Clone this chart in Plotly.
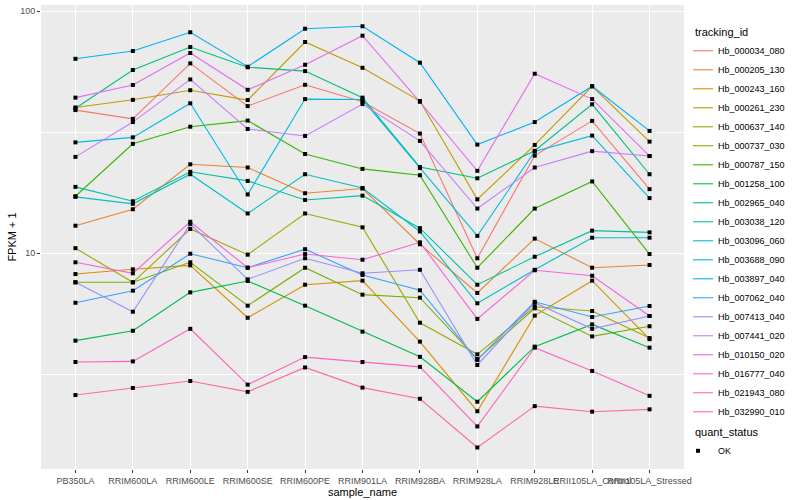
import plotly.graph_objects as go

samples = ["PB350LA", "RRIM600LA", "RRIM600LE", "RRIM600SE", "RRIM600PE", "RRIM901LA",
           "RRIM928BA", "RRIM928LA", "RRIM928LE", "RRII105LA_Control", "RRII105LA_Stressed"]

# FPKM + 1 values per tracking_id
hb_000034_080 = [39.0, 35.9, 60.8, 40.5, 49.6, 42.2, 31.2, 9.54, 25.3, 35.2, 18.4]
hb_000205_130 = [13.0, 15.2, 23.3, 22.6, 17.7, 18.5, 10.9, 6.86, 11.5, 8.72, 8.95]
hb_000243_160 = [8.21, 8.59, 8.92, 5.42, 7.42, 7.71, 4.32, 2.23, 5.53, 7.71, 4.42]
hb_000261_230 = [40.0, 43.0, 47.1, 42.9, 74.5, 58.3, 42.5, 16.7, 28.0, 48.9, 28.9]
hb_000637_140 = [10.5, 7.59, 12.6, 9.87, 14.6, 12.8, 5.17, 3.83, 6.02, 5.78, 4.47]
hb_000737_030 = [7.59, 7.59, 9.18, 6.08, 8.72, 6.75, 6.56, 3.66, 5.93, 4.54, 5.00]
hb_000787_150 = [17.2, 28.3, 33.3, 35.3, 25.7, 22.3, 21.0, 8.72, 15.3, 19.8, 9.93]
hb_001258_100 = [4.36, 4.79, 6.90, 7.69, 6.08, 4.75, 3.74, 2.44, 4.12, 5.09, 4.08]
hb_002965_040 = [39.7, 57.1, 71.0, 58.6, 56.5, 43.9, 22.7, 20.4, 26.5, 41.2, 21.2]
hb_003038_120 = [18.8, 16.4, 21.7, 19.9, 16.6, 17.3, 12.7, 7.42, 9.68, 12.4, 12.2]
hb_003096_060 = [17.1, 16.0, 21.2, 14.6, 21.2, 18.6, 12.3, 6.22, 8.55, 11.6, 11.6]
hb_003688_090 = [28.7, 30.1, 41.6, 17.5, 43.3, 43.1, 22.5, 11.8, 26.3, 30.6, 16.9]
hb_003897_040 = [63.5, 68.4, 81.7, 58.9, 84.5, 86.5, 61.2, 28.1, 34.8, 48.9, 32.0]
hb_007062_040 = [6.25, 7.01, 9.96, 8.72, 10.4, 8.14, 7.04, 3.63, 6.31, 5.46, 6.06]
hb_007413_040 = [7.59, 5.74, 13.2, 7.81, 9.54, 8.27, 8.55, 3.46, 6.25, 4.88, 5.51]
hb_007441_020 = [25.0, 34.8, 52.2, 32.6, 30.5, 41.3, 29.1, 15.3, 22.6, 26.4, 25.2]
hb_010150_020 = [43.9, 49.5, 67.1, 47.3, 60.0, 79.1, 42.2, 21.9, 55.1, 43.3, 25.2]
hb_016777_040 = [9.18, 8.27, 13.5, 8.72, 9.93, 9.41, 11.1, 5.36, 8.51, 8.08, 5.51]
hb_021943_080 = [3.56, 3.58, 4.88, 2.87, 3.73, 3.56, 3.40, 1.93, 4.08, 3.27, 2.58]
hb_032990_010 = [2.60, 2.78, 2.97, 2.68, 3.38, 2.79, 2.51, 1.58, 2.34, 2.22, 2.27]

tracking_ids = ["Hb_000034_080", "Hb_000205_130", "Hb_000243_160", "Hb_000261_230",
                "Hb_000637_140", "Hb_000737_030", "Hb_000787_150", "Hb_001258_100",
                "Hb_002965_040", "Hb_003038_120", "Hb_003096_060", "Hb_003688_090",
                "Hb_003897_040", "Hb_007062_040", "Hb_007413_040", "Hb_007441_020",
                "Hb_010150_020", "Hb_016777_040", "Hb_021943_080", "Hb_032990_010"]
series_values = [hb_000034_080, hb_000205_130, hb_000243_160, hb_000261_230,
                 hb_000637_140, hb_000737_030, hb_000787_150, hb_001258_100,
                 hb_002965_040, hb_003038_120, hb_003096_060, hb_003688_090,
                 hb_003897_040, hb_007062_040, hb_007413_040, hb_007441_020,
                 hb_010150_020, hb_016777_040, hb_021943_080, hb_032990_010]
colors = ["#F8766D", "#EA8331", "#D89000", "#C09B00", "#A3A500", "#7CAE00", "#39B600",
          "#00BB4E", "#00BF7D", "#00C1A3", "#00BFC4", "#00BAE0", "#00B0F6", "#35A2FF",
          "#9590FF", "#C77CFF", "#E76BF3", "#FA62DB", "#FF62BC", "#FF6C91"]

FONT = "Liberation Sans, Arial, sans-serif"

fig = go.Figure()
for name, vals, col in zip(tracking_ids, series_values, colors):
    fig.add_trace(go.Scatter(x=samples, y=vals, mode="lines", name=name,
                             line=dict(color=col, width=1.1), legend="legend"))

all_x = [s for vals in series_values for s in samples]
all_y = [v for vals in series_values for v in vals]
fig.add_trace(go.Scatter(x=all_x, y=all_y, mode="markers", name="OK",
                         marker=dict(symbol="square", size=4, color="black"),
                         legend="legend2"))

fig.update_layout(
    width=800, height=500,
    margin=dict(l=41, r=116, t=5, b=31),
    paper_bgcolor="white", plot_bgcolor="#EBEBEB",
    font=dict(family=FONT, size=9, color="black"),
    xaxis=dict(range=[-0.6, 10.6], showgrid=True, gridcolor="white", gridwidth=1.1,
               zeroline=False, showline=False, ticks="outside", ticklen=3,
               tickcolor="#333333", tickangle=0,
               tickfont=dict(size=9, color="#4D4D4D", family=FONT),
               title=dict(text="sample_name", font=dict(size=11, color="black"), standoff=3)),
    yaxis=dict(type="log", range=[0.1098, 2.0248], tickvals=[10, 100], ticktext=["10", "100"],
               showgrid=True, gridcolor="white", gridwidth=1.1, zeroline=False, showline=False,
               ticks="outside", ticklen=3, tickcolor="#333333",
               tickfont=dict(size=9, color="#4D4D4D", family=FONT),
               minor=dict(tickvals=[3.1623, 31.623], showgrid=True, gridcolor="white",
                          gridwidth=0.5, ticks=""),
               title=dict(text="FPKM + 1", font=dict(size=11, color="black"), standoff=1)),
    legend=dict(title=dict(text="tracking_id", font=dict(size=11)),
                x=1.014, xanchor="left", y=0.9634, yanchor="top",
                font=dict(size=9), bgcolor="rgba(0,0,0,0)", itemwidth=30,
                tracegroupgap=0, indentation=-15, maxheight=1),
    legend2=dict(title=dict(text="quant_status", font=dict(size=11)),
                 x=1.014, xanchor="left", y=0.1013, yanchor="top",
                 font=dict(size=9), bgcolor="rgba(0,0,0,0)", itemwidth=30,
                 indentation=-15),
)

fig.write_html("out.html", config={"displayModeBar": False},
               post_script="document.body.style.margin='0';document.body.style.padding='0';")
